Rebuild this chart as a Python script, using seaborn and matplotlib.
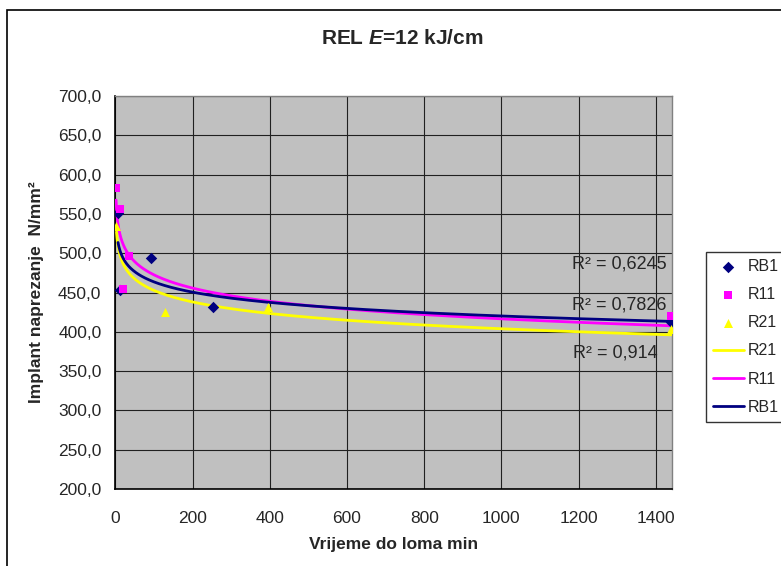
import numpy as np
import pandas as pd
import matplotlib
matplotlib.use("Agg")
import matplotlib.pyplot as plt
import seaborn as sns
from matplotlib.patches import Rectangle

sns.set_style("white")
plt.rcParams['font.family'] = ['Liberation Sans', 'DejaVu Sans']
plt.rcParams['mathtext.fontset'] = 'custom'
plt.rcParams['mathtext.rm'] = 'Liberation Sans:bold'
plt.rcParams['mathtext.it'] = 'Liberation Sans:italic:bold'

# ---- data ----
rb1_x = [7, 11, 93, 252, 1440]
rb1_y = [551, 453, 494, 432, 413]
r11_x = [2, 12, 20, 35, 1439]
r11_y = [583, 556, 454, 496, 420]
r21_x = [3, 129, 396, 1440]
r21_y = [534, 425, 432, 403]

r2_labels = ["R² = 0,6245", "R² = 0,7826", "R² = 0,914"]

x_ticks = list(range(0, 1401, 200))
y_ticks = list(range(200, 701, 50))

navy = "#000080"
magenta = "#FF00FF"
yellow = "#FFFF00"

FS = 12.5

fig = plt.figure(figsize=(7.81, 5.66), dpi=100)
fig.patch.set_facecolor("white")
ax = fig.add_axes([115.3 / 781, 1 - 489 / 566, (671.7 - 115.3) / 781, (489 - 96) / 566])
ax.set_facecolor("#C0C0C0")

def logfit(xs, ys):
    xs = np.asarray(xs, float); ys = np.asarray(ys, float)
    a, b = np.polyfit(np.log(xs), ys, 1)
    gx = np.geomspace(xs.min(), xs.max(), 300)
    return gx, a * np.log(gx) + b

# scatter points
sns.scatterplot(x=rb1_x, y=rb1_y, ax=ax, marker="D", color=navy, s=34, edgecolor=navy, linewidth=0, label="RB1", zorder=4)
sns.scatterplot(x=r11_x, y=r11_y, ax=ax, marker="s", color=magenta, s=32, edgecolor=magenta, linewidth=0, label="R11", zorder=5)
sns.scatterplot(x=r21_x, y=r21_y, ax=ax, marker="^", color=yellow, s=42, edgecolor=yellow, linewidth=0, label="R21", zorder=6)

# logarithmic trendlines
gx, gy = logfit(r21_x, r21_y)
sns.lineplot(x=gx, y=gy, ax=ax, color=yellow, lw=2.0, label="R21", zorder=3, estimator=None, sort=False)
gx, gy = logfit(r11_x, r11_y)
sns.lineplot(x=gx, y=gy, ax=ax, color=magenta, lw=2.0, label="R11", zorder=3.1, estimator=None, sort=False)
gx, gy = logfit(rb1_x, rb1_y)
sns.lineplot(x=gx, y=gy, ax=ax, color=navy, lw=2.0, label="RB1", zorder=3.2, estimator=None, sort=False)

ax.set_xlim(0, 1441)
ax.set_ylim(200, 700)
ax.set_xticks(x_ticks)
ax.set_yticks(y_ticks)
ax.set_xticklabels([str(t) for t in x_ticks], fontsize=FS)
ax.set_yticklabels([f"{t},0" for t in y_ticks], fontsize=FS)
ax.grid(True, color="#202020", lw=0.8)
ax.set_axisbelow(True)
ax.tick_params(axis="both", direction="out", length=5, width=1, color="black", pad=5)
ax.tick_params(axis="x", pad=11)
for s in ["left", "bottom"]:
    ax.spines[s].set_color("black"); ax.spines[s].set_linewidth(1.2)
for s in ["top", "right"]:
    ax.spines[s].set_color("#808080"); ax.spines[s].set_linewidth(1.0)

ax.set_xlabel("Vrijeme do loma min", fontsize=FS, fontweight="bold", labelpad=8)
ax.set_ylabel("Implant naprezanje  N/mm²", fontsize=FS, fontweight="bold", labelpad=10)

# R² labels
ax.text(1427, 486, r2_labels[0], ha="right", va="center", fontsize=13)
ax.text(1427, 434, r2_labels[1], ha="right", va="center", fontsize=13)
ax.text(1405, 373, r2_labels[2], ha="right", va="center", fontsize=13)

fig.text(402 / 781, 1 - 38 / 566, r"REL $E$=12 kJ/cm", ha="center", va="center",
         fontsize=15, fontweight="bold")

# legend
handles, labels = ax.get_legend_handles_labels()
if ax.legend_:
    ax.legend_.remove()
leg = fig.legend(handles, labels, loc="upper left", bbox_to_anchor=(706 / 781, 1 - 252 / 566),
                 fontsize=11.5, frameon=True, fancybox=False, edgecolor="black",
                 borderpad=0.45, labelspacing=0.82, handlelength=1.9, handletextpad=0.25,
                 borderaxespad=0)
leg.get_frame().set_linewidth(1.0)

# outer chart border
fig.patches.append(Rectangle((7 / 781, -0.05), 1.1, 1 - 10 / 566 + 0.05, transform=fig.transFigure,
                             fill=False, edgecolor="black", lw=1.2, clip_on=False))

fig.savefig("out.png", dpi=100)
